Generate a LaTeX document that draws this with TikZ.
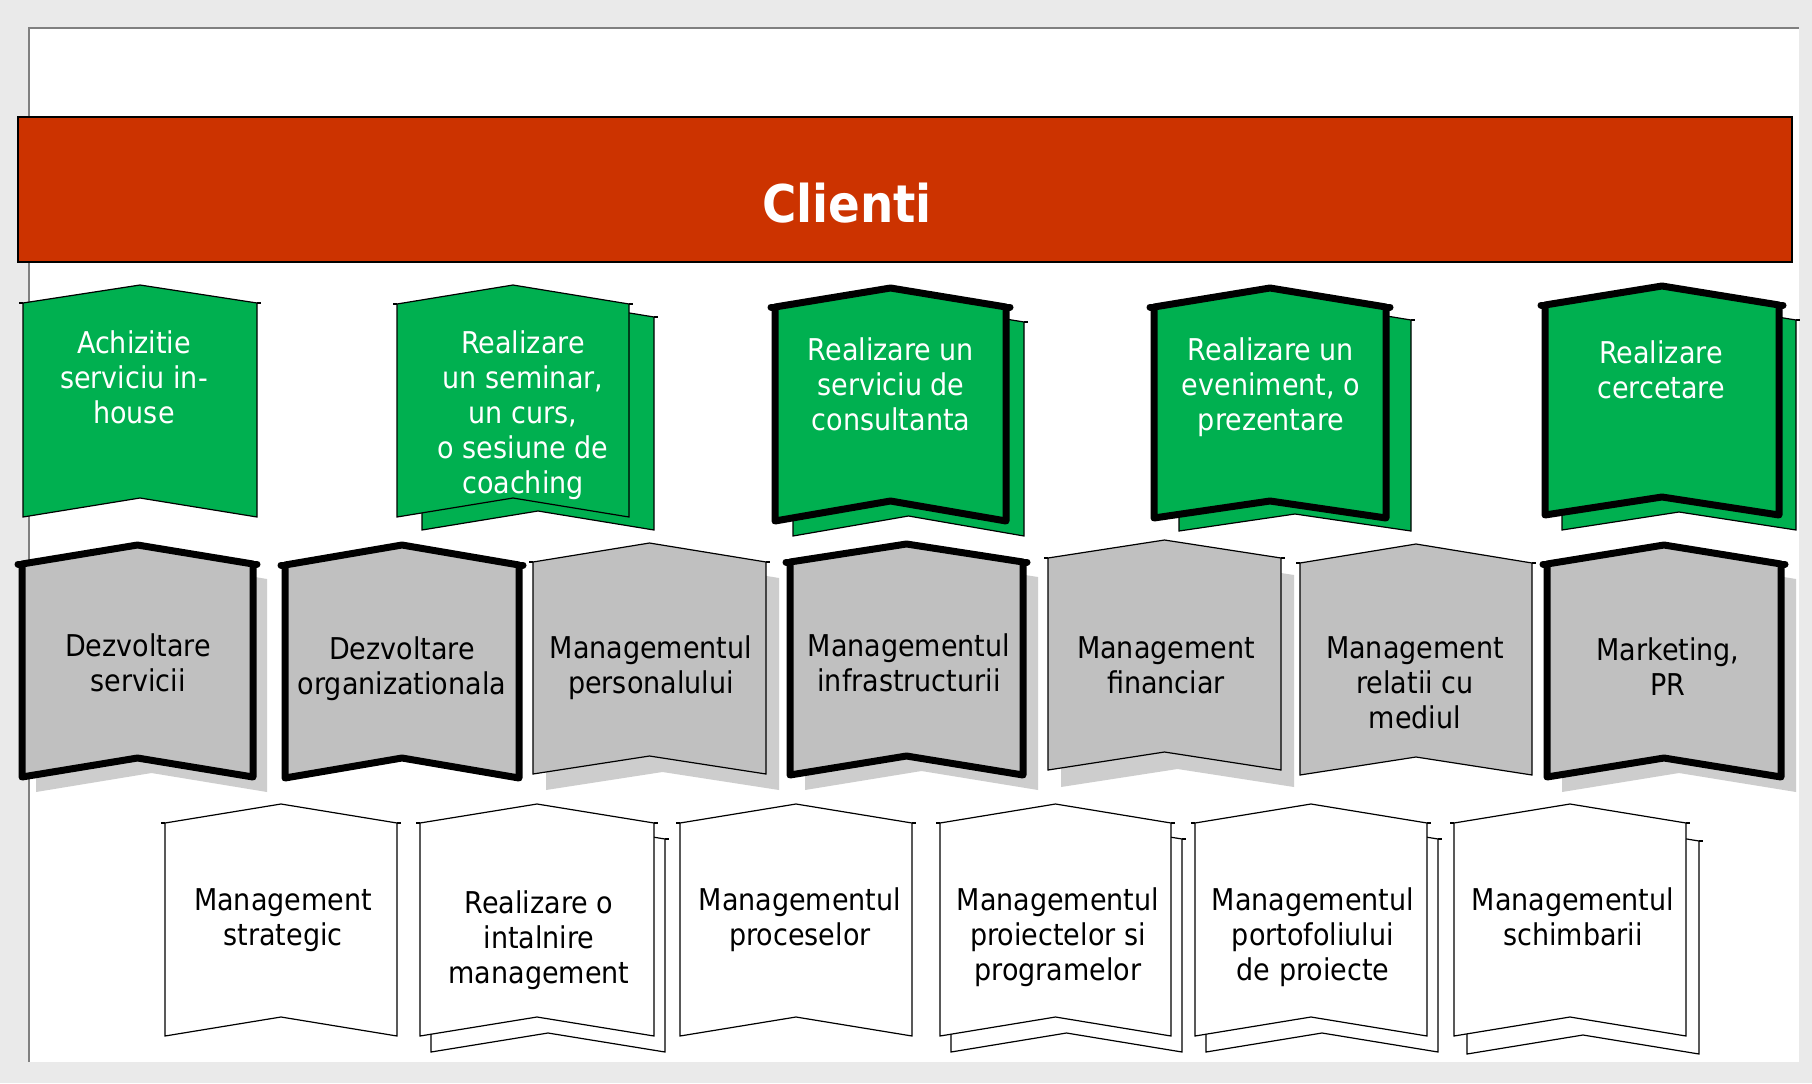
\documentclass[tikz,border=0pt]{standalone}
\usepackage{fontspec}
\newfontfamily\lab{DejaVu Sans Condensed}
\definecolor{bgray}{HTML}{EAEAEA}
\definecolor{framec}{HTML}{808080}
\definecolor{clired}{HTML}{CC3300}
\definecolor{cgreen}{HTML}{00B050}
\definecolor{cgray}{HTML}{C0C0C0}
\definecolor{cshadow}{HTML}{CDCDCD}
\newcommand\lines[1]{\begin{tabular}[t]{@{}c@{}}#1\end{tabular}}
% #1 style, #2 x0, #3 x1, #4 y corner, #5 y peak, #6 y bottom, #7 y notch
\newcommand\bmk[7]{%
  \path[#1] (#2,#4) -- ({(#2+#3)/2},#5) -- (#3,#4) -- (#3,#6) -- ({(#2+#3)/2},#7) -- (#2,#6) -- cycle;
  \path[#1,fill=none] (#2-4,#4) -- (#2,#4) (#3,#4) -- (#3+4,#4);
}
\tikzset{
  thinline/.style={draw=black, line width=0.6pt, line join=miter},
  thickline/.style={draw=black, line width=3.5pt, line join=round, line cap=round},
  greenthin/.style={thinline, fill=cgreen},
  greenthick/.style={thickline, fill=cgreen},
  graythin/.style={thinline, fill=cgray},
  graythick/.style={thickline, fill=cgray},
  whitethin/.style={thinline, fill=white},
  shadowbox/.style={fill=cshadow, draw=none},
  lbl/.style={font=\lab\fontsize{15}{17.5}\selectfont, inner sep=0pt, anchor=base},
}
\begin{document}
\begin{tikzpicture}[x=0.5pt, y=-0.5pt]
\useasboundingbox (0,0) rectangle (1812,1083);
\fill[bgray] (0,0) rectangle (1812,1083);
\fill[white] (29,28) rectangle (1799,1062);
\draw[framec, line width=1pt] (29,1062) -- (29,28) -- (1799,28);

% banner
\draw[fill=clired, line width=0.8pt] (18,117) rectangle (1792,262);
\node[font=\lab\bfseries\fontsize{26}{30}\selectfont, text=white, inner sep=0pt, anchor=base] (clienti) at (847,222) {Clienti};

% ---------- green row ----------
\bmk{greenthin}{23}{257}{303}{285}{517}{498}
\bmk{greenthin}{397+25}{629+25}{304+13}{285+13}{517+13}{498+13}
\bmk{greenthin}{397}{629}{304}{285}{517}{498}
\bmk{greenthin}{775+18}{1006+18}{307+15}{288+15}{521+15}{501+15}
\bmk{greenthick}{775}{1006}{307}{288}{521}{501}
\bmk{greenthin}{1154+25}{1386+25}{307+13}{288+13}{518+13}{501+13}
\bmk{greenthick}{1154}{1386}{307}{288}{518}{501}
\bmk{greenthin}{1545+17}{1779+17}{305+15}{286+15}{515+15}{497+15}
\bmk{greenthick}{1545}{1779}{305}{286}{515}{497}

\node[lbl, text=white] (g1) at (134,353) {\lines{Achizitie\\serviciu in-\\house}};
\node[lbl, text=white] (g2) at (523,353) {\lines{Realizare\\un seminar,\\un curs,\\o sesiune de\\coaching}};
\node[lbl, text=white] (g3) at (891,360) {\lines{Realizare un\\serviciu de\\consultanta}};
\node[lbl, text=white] (g4) at (1271,360) {\lines{Realizare un\\eveniment, o\\prezentare}};
\node[lbl, text=white] (g5) at (1661,363) {\lines{Realizare\\cercetare}};

% ---------- gray row ----------
\bmk{shadowbox}{22+14}{253+14}{564+15}{545+15}{777+15}{758+15}
\bmk{graythick}{22}{253}{564}{545}{777}{758}
\bmk{graythick}{285}{519}{565}{545}{778}{758}
\bmk{shadowbox}{533+13}{766+13}{562+16}{543+16}{774+16}{756+16}
\bmk{graythin}{533}{766}{562}{543}{774}{756}
\bmk{shadowbox}{790+15}{1023+15}{562+15}{544+15}{775+15}{756+15}
\bmk{graythick}{790}{1023}{562}{544}{775}{756}
\bmk{shadowbox}{1048+13}{1281+13}{558+17}{540+17}{770+17}{752+17}
\bmk{graythin}{1048}{1281}{558}{540}{770}{752}
\bmk{graythin}{1300}{1532}{563}{544}{775}{757}
\bmk{shadowbox}{1547+15}{1781+15}{564+15}{545+15}{777+15}{758+15}
\bmk{graythick}{1547}{1781}{564}{545}{777}{758}

\node[lbl] (s1) at (138,656) {\lines{Dezvoltare\\servicii}};
\node[lbl] (s2) at (402,659) {\lines{Dezvoltare\\organizationala}};
\node[lbl] (s3) at (651,658) {\lines{Managementul\\personalului}};
\node[lbl] (s4) at (909,656) {\lines{Managementul\\infrastructurii}};
\node[lbl] (s5) at (1166,658) {\lines{Management\\financiar}};
\node[lbl] (s6) at (1415,658) {\lines{Management\\relatii cu\\mediul}};
\node[lbl] (s7) at (1668,660) {\lines{Marketing,\\PR}};

% ---------- white row ----------
\bmk{whitethin}{165}{397}{823}{804}{1036}{1017}
\bmk{whitethin}{420+11}{654+11}{823+16}{804+16}{1036+16}{1017+16}
\bmk{whitethin}{420}{654}{823}{804}{1036}{1017}
\bmk{whitethin}{680}{912}{823}{804}{1036}{1017}
\bmk{whitethin}{940+11}{1171+11}{823+16}{804+16}{1036+16}{1017+16}
\bmk{whitethin}{940}{1171}{823}{804}{1036}{1017}
\bmk{whitethin}{1195+11}{1427+11}{823+16}{804+16}{1036+16}{1017+16}
\bmk{whitethin}{1195}{1427}{823}{804}{1036}{1017}
\bmk{whitethin}{1454+13}{1686+13}{823+18}{804+18}{1036+18}{1017+18}
\bmk{whitethin}{1454}{1686}{823}{804}{1036}{1017}

\node[lbl] (w1) at (283,910) {\lines{Management\\strategic}};
\node[lbl] (w2) at (539,913) {\lines{Realizare o\\intalnire\\management}};
\node[lbl] (w3) at (800,910) {\lines{Managementul\\proceselor}};
\node[lbl] (w4) at (1058,910) {\lines{Managementul\\proiectelor si\\programelor}};
\node[lbl] (w5) at (1313,910) {\lines{Managementul\\portofoliului\\de proiecte}};
\node[lbl] (w6) at (1573,910) {\lines{Managementul\\schimbarii}};
\end{tikzpicture}
\end{document}
